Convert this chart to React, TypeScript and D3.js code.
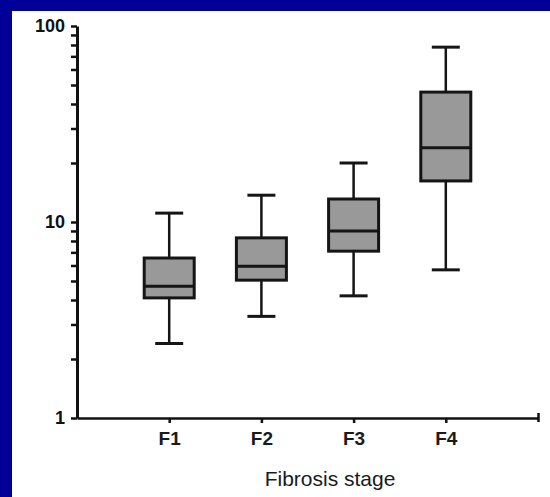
import React, { useEffect, useRef } from "react";
import { select, scaleLog, scaleLinear, axisLeft, axisBottom } from "d3";

const stages = ["F1", "F2", "F3", "F4"];
const whiskerLow = [2.4, 3.3, 4.2, 5.7];
const q1 = [4.1, 5.05, 7.1, 16.2];
const median = [4.7, 5.95, 9.0, 23.9];
const q3 = [6.55, 8.3, 13.1, 46];
const whiskerHigh = [11.1, 13.7, 20.0, 78];
const yTickLabels = [1, 10, 100];

const W = 550;
const H = 497;

const App = () => {
  const ref = useRef(null);

  useEffect(() => {
    const svg = select(ref.current);
    svg.selectAll("*").remove();

    // blue slide background with white panel
    svg.append("rect").attr("width", W).attr("height", H).attr("fill", "#000099");
    svg.append("rect").attr("x", 12).attr("y", 11).attr("width", W - 12).attr("height", H - 11).attr("fill", "#ffffff");

    const y = scaleLog().domain([1, 100]).range([418, 26]);
    const x = scaleLinear().domain([0, 5]).range([77, 538]);

    const yAxis = axisLeft(y)
      .tickValues(y.ticks())
      .tickSize(6)
      .tickSizeOuter(0)
      .tickFormat((d) => (yTickLabels.includes(+d) ? String(d) : ""));

    const gy = svg.append("g").attr("transform", "translate(77,0)").call(yAxis);
    gy.select(".domain").attr("stroke", "#111").attr("stroke-width", 3);
    gy.selectAll(".tick line").attr("stroke", "#111").attr("stroke-width", 2.5);
    gy.selectAll(".tick text")
      .attr("x", -12)
      .attr("fill", "#111")
      .style("font-family", "'Liberation Sans', Arial, sans-serif")
      .style("font-size", "18px")
      .style("font-weight", "bold");

    const xAxis = axisBottom(x)
      .tickValues([1, 2, 3, 4, 5])
      .tickSize(5)
      .tickSizeOuter(0)
      .tickFormat((d) => stages[+d - 1] || "");

    const gx = svg.append("g").attr("transform", "translate(0,418)").call(xAxis);
    gx.select(".domain").attr("stroke", "#111").attr("stroke-width", 2.5);
    gx.selectAll(".tick line").attr("stroke", "#111").attr("stroke-width", 2.5);
    gx.selectAll(".tick")
      .filter((d) => d === 5)
      .select("line")
      .attr("y1", -5)
      .attr("y2", 4);
    gx.selectAll(".tick text")
      .attr("y", 14)
      .attr("fill", "#1a1a1a")
      .style("font-family", "'Liberation Sans', Arial, sans-serif")
      .style("font-size", "19px")
      .style("font-weight", "bold");

    svg
      .append("text")
      .attr("x", 330)
      .attr("y", 486)
      .attr("text-anchor", "middle")
      .attr("fill", "#1a1a1a")
      .style("font-family", "'Liberation Sans', Arial, sans-serif")
      .style("font-size", "21px")
      .text("Fibrosis stage");

    const boxW = 50;
    const capW = 28;
    const boxes = svg
      .selectAll(".box")
      .data(stages)
      .join("g")
      .attr("class", "box")
      .attr("transform", (d, i) => `translate(${x(i + 1)},0)`);

    boxes
      .append("line")
      .attr("y1", (d, i) => y(whiskerLow[i]))
      .attr("y2", (d, i) => y(whiskerHigh[i]))
      .attr("stroke", "#151515")
      .attr("stroke-width", 2.5);

    boxes
      .append("line")
      .attr("x1", -capW / 2)
      .attr("x2", capW / 2)
      .attr("y1", (d, i) => y(whiskerHigh[i]))
      .attr("y2", (d, i) => y(whiskerHigh[i]))
      .attr("stroke", "#151515")
      .attr("stroke-width", 3);

    boxes
      .append("line")
      .attr("x1", -capW / 2)
      .attr("x2", capW / 2)
      .attr("y1", (d, i) => y(whiskerLow[i]))
      .attr("y2", (d, i) => y(whiskerLow[i]))
      .attr("stroke", "#151515")
      .attr("stroke-width", 3);

    boxes
      .append("rect")
      .attr("x", -boxW / 2)
      .attr("width", boxW)
      .attr("y", (d, i) => y(q3[i]))
      .attr("height", (d, i) => y(q1[i]) - y(q3[i]))
      .attr("fill", "#999999")
      .attr("stroke", "#151515")
      .attr("stroke-width", 3);

    boxes
      .append("line")
      .attr("x1", -boxW / 2)
      .attr("x2", boxW / 2)
      .attr("y1", (d, i) => y(median[i]))
      .attr("y2", (d, i) => y(median[i]))
      .attr("stroke", "#151515")
      .attr("stroke-width", 3);
  }, []);

  return (
    <svg
      ref={ref}
      width={W}
      height={H}
      style={{ position: "absolute", left: 0, top: 0, display: "block" }}
    />
  );
};

export default App;
